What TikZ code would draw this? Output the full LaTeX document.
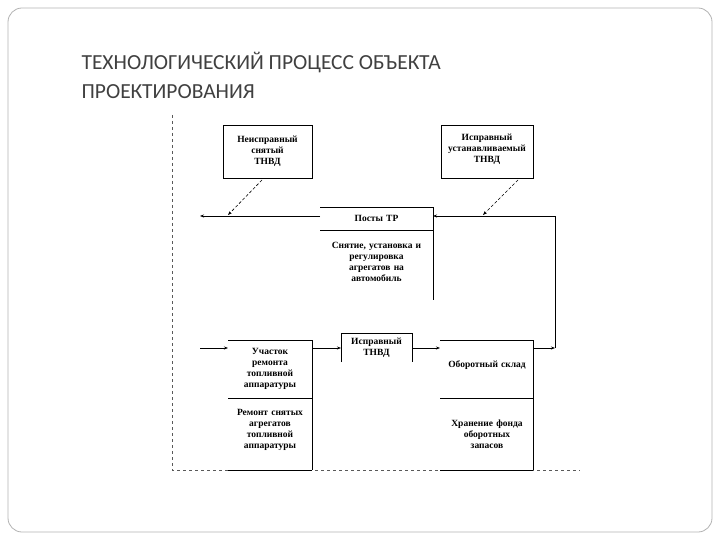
\documentclass[tikz,border=0pt]{standalone}
\usepackage{fontspec}
\setmainfont{Liberation Serif}
\newfontfamily\titlefont{Carlito}
\usetikzlibrary{arrows.meta}
\begin{document}
\begin{tikzpicture}[x=1pt,y=-1pt,
  lbl/.style={font=\fontsize{9.5}{11}\selectfont\bfseries, align=center, text width=88pt, inner sep=0pt},
  ln/.style={line width=0.6pt},
  arr/.style={ln,-{Stealth[length=4pt,width=3pt]}},
  dsh/.style={ln,dashed,gray!70!black}]
\useasboundingbox (0,0) rectangle (720,540);
\draw[gray!60, line width=0.8pt, rounded corners=14pt] (8,8) rectangle (712,532);
\node[anchor=west, font=\titlefont\fontsize{21.5}{24}\selectfont, text=black!75] (t1) at (78,63) {ТЕХНОЛОГИЧЕСКИЙ ПРОЦЕСС ОБЪЕКТА};
\node[anchor=west, font=\titlefont\fontsize{21.5}{24}\selectfont, text=black!75] (t2) at (78,92) {ПРОЕКТИРОВАНИЯ};
% dashed frame
\coordinate (dtl) at (172,115); \coordinate (dbl) at (172,470); \coordinate (dbr) at (580,470);
\draw[dsh] (dtl) -- (dbl) -- (dbr);
% top boxes
\draw[ln] (223,125) rectangle (312,178);
\node[lbl] (b1) at (267.5,151) {Неисправный\\снятый\\ТНВД};
\draw[ln] (441,125) rectangle (533,178);
\node[lbl, text width=94pt] (b2) at (487,149) {Исправный\\устанавливаемый\\ТНВД};
% posts
\draw[ln] (320,207) -- (433,207) -- (433,300);
\draw[ln] (320,230) -- (433,230);
\node[lbl] (p) at (376.5,218.5) {Посты ТР};
\node[lbl, text width=112pt] (p2) at (376.5,262) {Снятие, установка и\\регулировка\\агрегатов на\\автомобиль};
\coordinate (la) at (200,216); \coordinate (lp) at (320,216);
\draw[arr] (lp) -- (la);
\coordinate (c1a) at (262,180); \coordinate (c1b) at (228,215);
\draw[arr,densely dashed] (c1a) -- (c1b);
\coordinate (c2a) at (518,180); \coordinate (c2b) at (483,215);
\draw[arr,densely dashed] (c2a) -- (c2b);
% row 2
\draw[ln] (228,340) -- (312,340) -- (312,470);
\draw[ln] (228,398) -- (312,398);
\draw[ln] (228,470) -- (312,470);
\node[lbl] (u) at (270,369) {Участок\\ремонта\\топливной\\аппаратуры};
\node[lbl] (r) at (270,430) {Ремонт снятых\\агрегатов\\топливной\\аппаратуры};
\draw[ln] (341,362) -- (341,333) -- (412,333) -- (412,362);
\node[lbl] (i) at (376.5,348) {Исправный\\ТНВД};
\draw[ln] (440,340) -- (533,340) -- (533,470);
\draw[ln] (440,398) -- (533,398);
\draw[ln] (440,470) -- (533,470);
\node[lbl, text width=93pt] (o) at (487,365) {Оборотный склад};
\node[lbl] (h) at (487,434) {Хранение фонда\\оборотных\\запасов};
\coordinate (s0) at (200,348); \coordinate (s1) at (228,348);
\draw[arr] (s0) -- (s1);
\draw[arr] (312,348) -- (341,348);
\draw[arr] (412,348) -- (440,348);
\coordinate (rc) at (555,348);
\draw[arr] (533,348) -- (rc);
\draw[arr] (rc) -- (555,216) -- (433,216);
\end{tikzpicture}
\end{document}
